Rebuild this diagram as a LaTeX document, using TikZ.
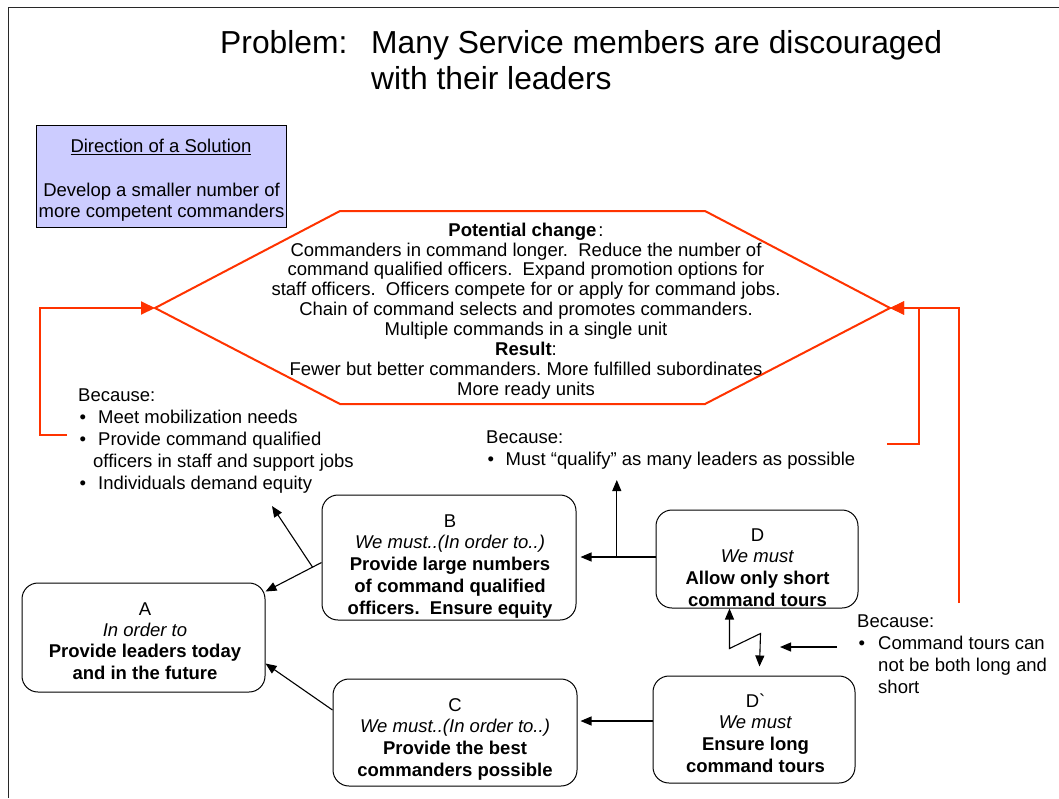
\documentclass[tikz,border=0pt]{standalone}
\usepackage{fontspec}
\setmainfont{Liberation Sans}
% same face without the TeX input mapping, so a grave stays a grave
\newfontfamily\nomapfont{Liberation Sans}
\usetikzlibrary{arrows.meta,calc}
\definecolor{redc}{RGB}{255,51,0}
\definecolor{lav}{RGB}{204,204,255}
\definecolor{framec}{RGB}{40,40,40}
\frenchspacing
% body text at 18.5pt with a chosen line pitch
\newcommand\fsz[1]{\fontsize{18.5}{#1}\selectfont}
\newcommand\titlefont{\fontsize{31.8}{35}\selectfont}
% bullet set in a box of given width
\newcommand\bul[1]{\makebox[#1][l]{\hspace{1.5pt}•}}
\begin{document}
\begin{tikzpicture}[x=1pt,y=-1pt,
  box/.style={draw=black, line width=1pt, rounded corners=16pt, inner sep=0},
  arr/.style={line width=1.1pt, -{Triangle[length=11pt,width=9pt]}},
  dblarr/.style={line width=1.1pt, {Triangle[length=11pt,width=9pt]}-{Triangle[length=11pt,width=9pt]}},
  redline/.style={draw=redc, line width=2pt},
  redarr/.style={redline, -{Triangle[length=14pt,width=13pt]}},
  txt/.style={inner sep=0, align=center, anchor=north},
  btxt/.style={inner sep=0, align=left, anchor=north west},
  ttl/.style={inner sep=0, anchor=base west, font=\titlefont}]
\useasboundingbox (0,0) rectangle (1059,798);

% page frame
\draw[framec, line width=1.6pt] (8.3,798) -- (8.3,7.3) -- (1059,7.3);

% title
\node[ttl] (tP) at (220,53.5) {Problem:};
\node[ttl] (tM1) at (371,53.5) {Many Service members are discouraged};
\node[ttl] (tM2) at (371,89) {with their leaders};

% direction of a solution
\node[draw=black, fill=lav, line width=0.9pt, minimum width=250pt, minimum height=102pt, inner sep=0] (dir) at (161,176.5) {};
\node[inner sep=0, anchor=base, font=\fsz{22}] (dirT) at (161,152.7) {\underline{Direction of a Solution}};
\node[txt, font=\fsz{20.6}] (dirB) at (161.5,182.3) {\strut Develop a smaller number of\\ more competent commanders};

% potential change hexagon
\coordinate (octL) at (155,308);
\coordinate (octR) at (890,308);
\draw[redline] (octL) -- (340,211) -- (705,211) -- (octR) -- (705,404) -- (340,404) -- cycle;
\node[txt, font=\fsz{19.85}] (chg) at (526,222.1) {\strut\textbf{Potential change}\hspace{2pt}:\\
  Commanders in command longer.\ \ Reduce the number of\\
  command qualified officers.\ \ Expand promotion options for\\
  staff officers.\ \ Officers compete for or apply for command jobs.\\
  Chain of command selects and promotes commanders.\\
  Multiple commands in a single unit\\
  \textbf{Result}:\\
  Fewer but better commanders. More fulfilled subordinates\\
  More ready units};

% feedback into the hexagon
\coordinate (lfTail) at (67,435);
\coordinate (rtTail1) at (887,444);
\coordinate (rtTail2) at (959,603);
\draw[redarr] (lfTail) -- ++(-27,0) |- (octL);
\draw[redarr] (rtTail1) -- ++(32,0) |- (octR);
\draw[redarr] (rtTail2) |- (octR);

% reasons
\node[btxt, font=\fsz{22}] (becL) at (78,385.6) {\strut Because:\\
  \bul{20pt}Meet mobilization needs\\
  \bul{20pt}Provide command qualified\\
  \hspace*{15pt}officers in staff and support jobs\\
  \bul{20pt}Individuals demand equity};
\node[btxt, font=\fsz{22}] (becM) at (486,427.6) {\strut Because:\\
  \bul{19.5pt}Must “qualify” as many leaders as possible};
\node[btxt, font=\fsz{21.9}] (becR) at (857,612.3) {\strut Because:\\
  \bul{21pt}Command tours can\\
  \hspace*{21pt}not be both long and\\
  \hspace*{21pt}short};

% goal and requirement boxes
\node[box, minimum width=243pt, minimum height=109pt] (A) at (143.5,637.5) {};
\node[box, minimum width=254pt, minimum height=125pt] (B) at (449,557.5) {};
\node[box, minimum width=244pt, minimum height=107pt] (C) at (455,732.5) {};
\node[box, minimum width=202pt, minimum height=98pt] (D) at (757,559) {};
\node[box, minimum width=202pt, minimum height=107pt] (Dp) at (754,729.5) {};

\node[txt, font=\fsz{21.3}] (At) at (145,600.1) {\strut A\\ \textit{In order to}\\
  \textbf{Provide leaders today}\\ \textbf{and in the future}};
\node[txt, font=\fsz{21.7}] (Bt) at (450,511.8) {\strut B\\ \textit{We must..(In order to..)}\\
  \textbf{Provide large numbers}\\ \textbf{of command qualified}\\
  \textbf{officers.\ \ Ensure equity}};
\node[txt, font=\fsz{21.7}] (Ct) at (455,695.8) {\strut C\\ \textit{We must..(In order to..)}\\
  \textbf{Provide the best}\\ \textbf{commanders possible}};
\node[txt, font=\fsz{21.7}] (Dt) at (757.5,525.8) {\strut D\\ \textit{We must}\\
  \textbf{Allow only short}\\ \textbf{command tours}};
\node[txt, font=\fsz{21.7}] (Dpt) at (755.5,691.8) {\strut D{\nomapfont\char"0060}\\ \textit{We must}\\
  \textbf{Ensure long}\\ \textbf{command tours}};

% connectors
\coordinate (becLtip) at (272,506);
\coordinate (becMtip) at (617,480);
\coordinate (tourTail) at (837,647);
\coordinate (tourTip) at (780,647);

\draw[arr] ([yshift=-5pt]B.west) -- coordinate[pos=0.16] (baFork) ([yshift=-9pt]A.north east);
\draw[arr] (baFork) -- (becLtip);
\draw[arr] ([yshift=22.5pt]C.west) -- ([yshift=-26pt]A.east);
\draw[arr, shorten >=4pt] ([yshift=2pt]D.west) -- coordinate[pos=0.49] (dbFork) ([yshift=2pt]D.west -| B.east);
\draw[arr] (dbFork) -- (dbFork |- becMtip);
\draw[arr, shorten >=3pt] ([yshift=8.5pt]Dp.west) -- ([yshift=8.5pt]Dp.west -| C.east);
\draw[dblarr] ([xshift=-27.5pt]D.south) -- ++(0,40) -- ++(31,-15) -- ([xshift=5.5pt,yshift=9pt]Dp.north);
\draw[arr] (tourTail) -- (tourTip);
\end{tikzpicture}
\end{document}
